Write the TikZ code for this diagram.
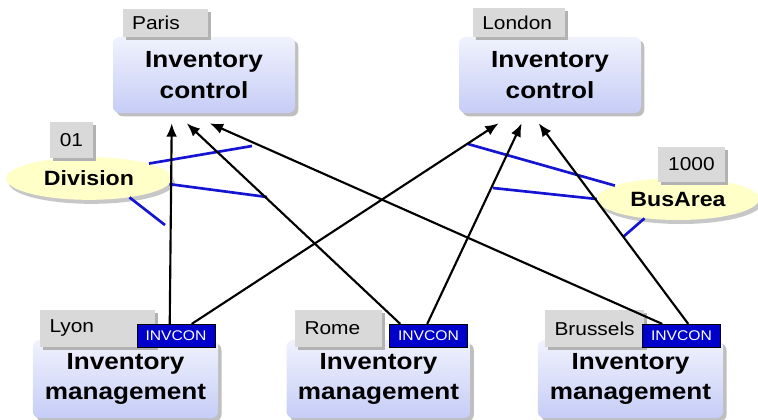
\documentclass[tikz,border=0pt]{standalone}
\usepackage{fontspec}
\setmainfont{Liberation Sans}[FakeStretch=1.12]
\usepackage{tikz}
\usetikzlibrary{positioning}
\usetikzlibrary{arrows.meta,shapes.geometric,shadows}

\definecolor{azul}{HTML}{0000CC}
\definecolor{lineaazul}{HTML}{1414D2}
\definecolor{amarillo}{HTML}{FFFFC8}
\definecolor{lilaclaro}{HTML}{F0F2FD}
\definecolor{lila}{HTML}{C6CDF6}

\begin{document}
\begin{tikzpicture}[x=0.75pt, y=-0.75pt,
    caja/.style={rounded corners=5pt, top color=lilaclaro, bottom color=lila,
      drop shadow={opacity=1, fill=black!25, shadow xshift=2.5pt, shadow yshift=-2.5pt},
      align=center, inner sep=0pt, font=\bfseries\fontsize{17.5}{23}\selectfont},
    lugar/.style={fill=black!15, text width=#1, align=left, inner xsep=7pt, inner ysep=0pt,
      drop shadow={opacity=1, fill=black!30, shadow xshift=2pt, shadow yshift=-2pt},
      font=\fontsize{14}{16}\selectfont},
    objeto/.style={ellipse, fill=amarillo, inner sep=0pt,
      drop shadow={opacity=1, fill=black!22, shadow xshift=2pt, shadow yshift=-3pt},
      font=\bfseries\fontsize{15.5}{18}\selectfont},
    invcon/.style={fill=azul, draw=black, text=white, inner sep=0pt,
      minimum width=58.5pt, minimum height=17pt, font=\fontsize{10.5}{12}\selectfont},
    flecha/.style={-{Latex[length=10pt, width=8pt]}, line width=1.6pt},
    asig/.style={draw=lineaazul, line width=2pt}]
  \useasboundingbox (0,0) rectangle (758,419);

  % Cajas
  \node[caja, minimum width=136.5pt, minimum height=57pt] (parisI) at (204,75) {Inventory\\control};
  \node[caja, minimum width=136.5pt, minimum height=57pt] (londonI) at (550,75) {Inventory\\control};
  \node[caja, minimum width=139pt, minimum height=58.5pt] (lyonI) at (125.5,379) {Inventory\\management};
  \node[caja, minimum width=138pt, minimum height=58.5pt] (romeI) at (378.5,379) {Inventory\\management};
  \node[caja, minimum width=139pt, minimum height=58.5pt] (bruI) at (630.5,379) {Inventory\\management};

  \node[lugar=50pt, minimum height=21pt] (parisL) at (165.5,23) {Paris};
  \node[lugar=55pt, minimum height=21.5pt] (londonL) at (519,22.5) {London};
  \node[lugar=72pt, minimum height=28pt] (lyonL) at (97.5,328.5) {Lyon};
  \node[lugar=51pt, minimum height=28pt] (romeL) at (338.5,328.5) {Rome};
  \node[lugar=60pt, minimum height=28pt] (bruL) at (594.5,328.5) {Brussels};

  \node[invcon] (lyonC) at (176,335.5) {INVCON};
  \node[invcon] (romeC) at (428.5,335.5) {INVCON};
  \node[invcon] (bruC) at (681.5,335.5) {INVCON};

  % Objetos
  \node[objeto, minimum width=124.5pt, minimum height=32pt] (division) at (89,178.5) {Division};
  \node[objeto, minimum width=121.5pt, minimum height=31.5pt] (busarea) at (678,199) {BusArea};
  \node[lugar=18pt, align=center, minimum height=27pt] (cod01) at (71.5,140) {01};
  \node[lugar=36pt, align=center, minimum height=26pt] (cod1000) at (691.5,164.5) {1000};

  \coordinate (d1) at (252,146);
  \coordinate (d2) at (267,197);
  \coordinate (d3) at (165,225);
  \coordinate (b1) at (468,144);
  \coordinate (b2) at (493,188);
  \coordinate (b3) at (623,237);

  % Asignaciones
  \draw[asig] (division.14) -- (d1);
  \draw[asig] (division.-4) -- (d2);
  \draw[asig] (division.-25) -- (d3);
  \draw[asig] (busarea.168) -- (b1);
  \draw[asig] (busarea.west) -- (b2);
  \draw[asig] (busarea.210) -- (b3);

  % Flechas
  \draw[flecha] ([shift={(33,0)}]lyonC.north west) -- ([shift={(59,10)}]parisI.south west);
  \draw[flecha] ([shift={(55,0)}]lyonC.north west) -- ([shift={(40,10)}]londonI.south west);
  \draw[flecha] ([shift={(11,0)}]romeC.north west) -- ([shift={(74,10)}]parisI.south west);
  \draw[flecha] ([shift={(38,0)}]romeC.north west) -- ([shift={(63,10)}]londonI.south west);
  \draw[flecha] ([shift={(20,0)}]bruC.north west) -- ([shift={(97,10)}]parisI.south west);
  \draw[flecha] ([shift={(46,0)}]bruC.north west) -- ([shift={(80,10)}]londonI.south west);
\end{tikzpicture}
\end{document}
